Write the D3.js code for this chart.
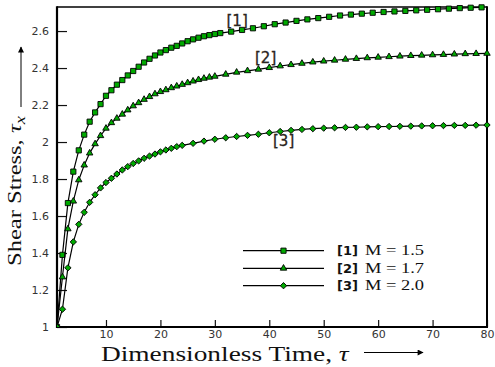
<!DOCTYPE html>
<html>
<head>
<meta charset="utf-8">
<script src="https://cdn.jsdelivr.net/npm/d3@7"></script>
<style>
  html, body { margin: 0; padding: 0; background: #fff; }
  svg { display: block; }
</style>
</head>
<body>
<svg id="chart" width="495" height="367"></svg>
<script>
// Shear stress history for three Mach numbers
const tau1 = [1,2,3,4,5,6,7,8,9,10,11,12,13,14,15,16,17,18,19,20,21,22,23,24,25,26,27,28,29,30,31,
  33,35,37,39,41,43,45,47,49,51,53,55,57,59,61,63,65,67,69,71,73,75,77,79];
const shear1 = [1.00,1.39,1.67,1.84,1.955,2.04,2.11,2.16,2.205,2.25,2.28,2.31,2.335,2.36,2.384,2.407,2.43,2.45,2.468,2.484,
  2.497,2.51,2.52,2.533,2.545,2.555,2.564,2.572,2.578,2.584,2.589,
  2.597,2.606,2.615,2.626,2.637,2.646,2.655,2.663,2.67,2.677,2.684,2.689,2.694,2.699,2.703,2.706,2.709,2.712,2.715,
  2.718,2.721,2.724,2.726,2.728];

const tau2 = [1,2,3,4,5,6,7,8,9,10,11,12,13,14,15,16,17,18,19,20,21,22,23,24,25,26,27,28,29,30,
  32,34,36,38,40,42,44,46,48,50,52,54,56,58,60,62,64,66,68,70,72,74,76,78,80];
const shear2 = [1.00,1.27,1.53,1.68,1.795,1.875,1.94,1.99,2.034,2.074,2.104,2.128,2.15,2.173,2.195,2.212,2.23,2.245,2.26,2.272,
  2.282,2.293,2.302,2.311,2.32,2.329,2.337,2.344,2.35,2.355,
  2.366,2.377,2.385,2.393,2.402,2.411,2.418,2.425,2.432,2.437,2.442,2.447,2.451,2.455,2.458,2.461,2.464,2.467,2.469,
  2.471,2.473,2.475,2.477,2.478,2.479];

const tau3 = [1,2,3,4,5,6,7,8,9,10,11,12,13,14,15,16,17,18,19,20,21,22,23,24,
  26,28,30,32,34,36,38,40,42,44,46,48,50,52,54,56,58,60,62,64,66,68,70,72,74,76,78,80];
const shear3 = [1.00,1.096,1.32,1.46,1.555,1.62,1.674,1.715,1.752,1.781,1.804,1.827,1.849,1.867,1.884,1.898,1.912,1.924,1.935,1.947,
  1.957,1.966,1.975,1.982,
  1.993,2.005,2.015,2.023,2.03,2.036,2.042,2.05,2.057,2.063,2.068,2.072,2.075,2.077,2.079,2.08,2.082,2.083,2.084,2.085,
  2.086,2.087,2.088,2.089,2.09,2.09,2.091,2.092];

const seriesTags = ["[1]", "[2]", "[3]"];
const machLabels = ["M = 1.5", "M = 1.7", "M = 2.0"];

const xMajorTicks = [10, 20, 30, 40, 50, 60, 70, 80];
const yMajorTicks = [1, 1.2, 1.4, 1.6, 1.8, 2, 2.2, 2.4, 2.6];
const xDomain = [1, 80];
const yDomain = [1, 2.73];

const svg = d3.select("#chart");
const pLeft = 57, pRight = 487, pTop = 7, pBottom = 327;

const x = d3.scaleLinear().domain(xDomain).range([pLeft, pRight]);
const y = d3.scaleLinear().domain(yDomain).range([pBottom, pTop]);

// minor ticks: every 2 on x, every 0.04 on y
const xMinor = d3.range(2, 81, 2).filter(v => v % 10 !== 0);
const yMinor = d3.range(0, 44).filter(i => i % 5 !== 0).map(i => 1 + i * 0.04);

const sansFont = "'DejaVu Sans', Verdana, sans-serif";
const serifFont = "'Liberation Serif', 'Times New Roman', serif";

const defs = svg.append("defs");

// axes
const gx = svg.append("g").attr("transform", `translate(0,${pBottom})`);
gx.call(d3.axisBottom(x).tickValues(xMinor).tickSize(-4).tickFormat(""));
gx.call(d3.axisBottom(x).tickValues(xMajorTicks).tickSize(-7).tickPadding(3).tickFormat(d3.format("d")));

const gy = svg.append("g").attr("transform", `translate(${pLeft},0)`);
gy.call(d3.axisLeft(y).tickValues(yMinor).tickSize(-6).tickFormat(""));
gy.call(d3.axisLeft(y).tickValues(yMajorTicks).tickSize(-10).tickPadding(8).tickFormat(d => d3.format("~g")(d)));

svg.selectAll(".domain").remove();
svg.selectAll(".tick line").attr("stroke", "#111").attr("stroke-width", 1.2);
svg.selectAll(".tick text")
  .attr("font-family", sansFont)
  .attr("font-size", 11)
  .attr("fill", "#333");

// frame
svg.append("line").attr("x1", pLeft).attr("x2", pRight).attr("y1", pTop).attr("y2", pTop)
  .attr("stroke", "#000").attr("stroke-width", 1.5);
svg.append("line").attr("x1", pRight).attr("x2", pRight).attr("y1", pTop - 0.75).attr("y2", pBottom + 1)
  .attr("stroke", "#000").attr("stroke-width", 2);
svg.append("line").attr("x1", pLeft).attr("x2", pLeft).attr("y1", pTop - 0.75).attr("y2", pBottom + 1)
  .attr("stroke", "#000").attr("stroke-width", 2.2);
svg.append("line").attr("x1", pLeft - 1).attr("x2", pRight + 1).attr("y1", pBottom).attr("y2", pBottom)
  .attr("stroke", "#000").attr("stroke-width", 2.2);

// clip region for curves
defs.append("clipPath").attr("id", "plotClip")
  .append("rect").attr("x", pLeft).attr("y", 0).attr("width", pRight - pLeft + 8).attr("height", pBottom);

const symbols = [
  { type: d3.symbolSquare, size: 27, rotate: 0 },
  { type: d3.symbolTriangle, size: 18, rotate: 0 },
  { type: d3.symbolSquare, size: 20, rotate: 45 }
];

const series = [
  { t: tau1, s: shear1 },
  { t: tau2, s: shear2 },
  { t: tau3, s: shear3 }
];

const line = d3.line().x(d => x(d[0])).y(d => y(d[1]));
const plot = svg.append("g").attr("clip-path", "url(#plotClip)");

series.forEach((ser, i) => {
  const pts = ser.t.map((t, k) => [t, ser.s[k]]);
  plot.append("path").datum(pts)
    .attr("d", line)
    .attr("fill", "none")
    .attr("stroke", "#000")
    .attr("stroke-width", 1.2);
  const sym = d3.symbol().type(symbols[i].type).size(symbols[i].size);
  plot.append("g").selectAll("path").data(pts).join("path")
    .attr("d", sym)
    .attr("transform", d => `translate(${x(d[0])},${y(d[1])}) rotate(${symbols[i].rotate})`)
    .attr("fill", "#00aa00")
    .attr("stroke", "#000")
    .attr("stroke-width", 0.9);
});

// curve tags placed next to each curve
const tagPos = [[226.5, 26], [255, 62.5], [273, 146]];
seriesTags.forEach((tag, i) => {
  svg.append("text")
    .attr("x", tagPos[i][0]).attr("y", tagPos[i][1])
    .attr("font-family", sansFont)
    .attr("font-size", 15)
    .attr("fill", "#2a2420")
    .attr("stroke", "#2a2420")
    .attr("stroke-width", 0.3)
    .text(tag);
});

// legend
const legendRows = [250.7, 268.3, 285.7];
legendRows.forEach((ly, i) => {
  const g = svg.append("g");
  g.append("line").attr("x1", 243).attr("x2", 324).attr("y1", ly).attr("y2", ly)
    .attr("stroke", "#000").attr("stroke-width", 1.3);
  g.append("path")
    .attr("d", d3.symbol().type(symbols[i].type).size(symbols[i].size))
    .attr("transform", `translate(283.5,${ly}) rotate(${symbols[i].rotate})`)
    .attr("fill", "#00aa00").attr("stroke", "#000").attr("stroke-width", 0.9);
  g.append("text")
    .attr("x", 337).attr("y", ly + 4.6)
    .attr("font-family", sansFont)
    .attr("font-weight", "bold")
    .attr("font-size", 13)
    .attr("fill", "#111")
    .text(seriesTags[i]);
  g.append("text")
    .attr("transform", `translate(365,${ly + 4.5}) scale(1.23,1)`)
    .attr("font-family", serifFont)
    .attr("font-size", 15)
    .attr("fill", "#111")
    .text(machLabels[i]);
});

// arrow heads
defs.append("marker").attr("id", "arrowHead")
  .attr("viewBox", "0 0 10 10").attr("refX", 9).attr("refY", 5)
  .attr("markerWidth", 7).attr("markerHeight", 6).attr("markerUnits", "userSpaceOnUse")
  .attr("orient", "auto")
  .append("path").attr("d", "M0,0 L10,5 L0,10 Z").attr("fill", "#000");

// x axis title
const xt = svg.append("text")
  .attr("transform", "translate(101,360.5) scale(1.244,1)")
  .attr("font-family", serifFont)
  .attr("font-size", 22)
  .attr("fill", "#111");
xt.append("tspan").text("Dimensionless Time, ");
xt.append("tspan").attr("font-style", "italic").text("τ");

svg.append("line").attr("x1", 364).attr("x2", 423).attr("y1", 352.5).attr("y2", 352.5)
  .attr("stroke", "#000").attr("stroke-width", 1).attr("marker-end", "url(#arrowHead)");

// y axis title
const yt = svg.append("text")
  .attr("transform", "translate(21,266) rotate(-90) scale(1.32,1)")
  .attr("font-family", serifFont)
  .attr("font-size", 18.6)
  .attr("fill", "#111");
yt.append("tspan").text("Shear Stress, ");
yt.append("tspan").attr("font-style", "italic").text("τ");
yt.append("tspan").attr("font-style", "italic").attr("font-size", 14).attr("dy", 4).text("x");

svg.append("line").attr("x1", 21).attr("x2", 21).attr("y1", 107).attr("y2", 47)
  .attr("stroke", "#000").attr("stroke-width", 1).attr("marker-end", "url(#arrowHead)");
</script>
</body>
</html>
